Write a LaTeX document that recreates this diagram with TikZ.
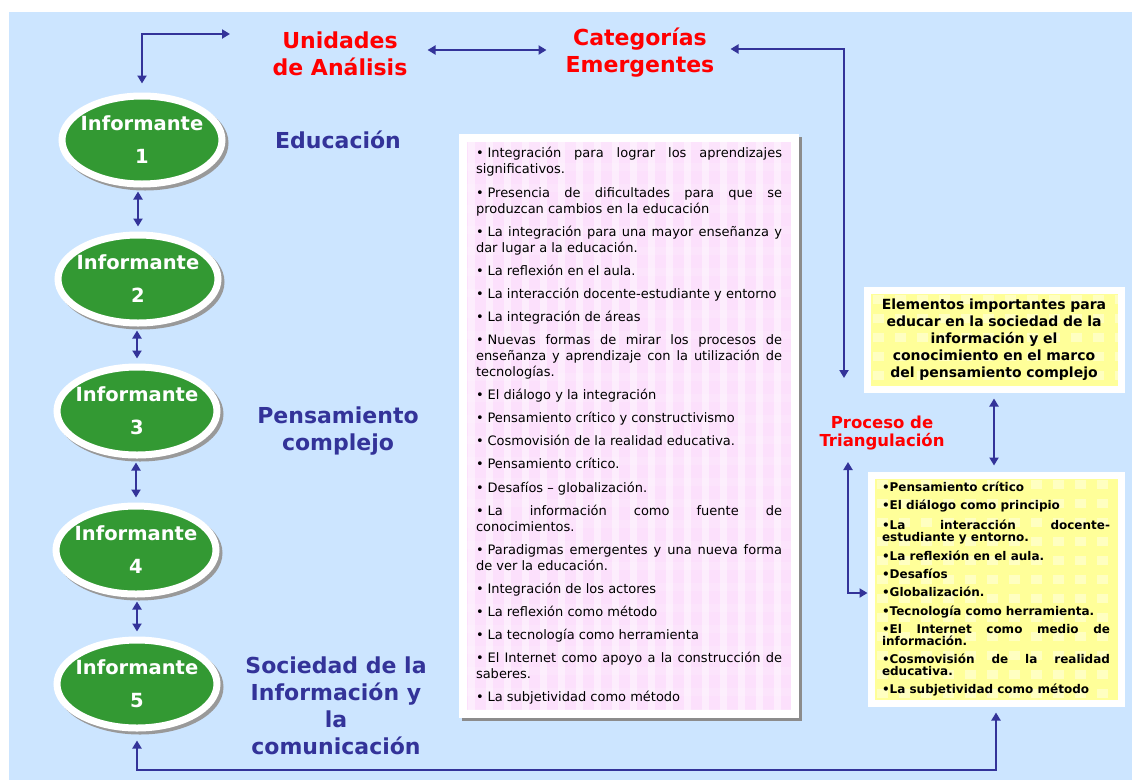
\documentclass[tikz,border=0pt]{standalone}
\usepackage{fontspec}
\setmainfont{DejaVu Sans}
\usepackage{xcolor}
\usepackage{tikz}
\usetikzlibrary{positioning,arrows.meta,shapes.geometric,shadows}
\definecolor{fondoazul}{HTML}{CCE5FF}
\definecolor{verdeinf}{HTML}{339933}
\definecolor{azulosc}{HTML}{333399}
\definecolor{rojotit}{HTML}{FF0000}
\definecolor{rosapal}{HTML}{FCE0FC}
\definecolor{amarillo}{HTML}{FFFF99}
\newcommand{\vin}{\textbullet\hspace{.3em}}

\begin{document}
\begin{tikzpicture}[x=1pt,y=-1pt,>={Triangle[length=8pt,width=9pt]}]
    \tikzset{
        infnodo/.style={
            ellipse,
            fill=verdeinf,
            draw=white,
            line width=7pt,
            minimum width=160pt,
            minimum height=88pt,
            inner xsep=-8pt,
            inner ysep=0pt,
            align=center,
            text=white,
            font=\fontsize{19.5}{33}\selectfont\bfseries,
            drop shadow={shadow xshift=3pt, shadow yshift=-3pt, opacity=1,
                fill=gray!80, draw=gray!80, line width=7pt}
        },
        flecha/.style={
            <->,
            draw=azulosc,
            line width=2.6pt
        },
        titrojo/.style={
            text=rojotit,
            align=center,
            inner sep=2pt,
            font=\fontsize{22}{27}\selectfont\bfseries
        },
        titazul/.style={
            text=azulosc,
            align=center,
            inner sep=2pt,
            font=\fontsize{22}{27}\selectfont\bfseries
        },
        parrafos/.style={
            execute at begin node={\setlength{\parindent}{0pt}\setlength{\parskip}{#1}\tolerance=10000 }
        },
        cajarosa/.style={
            rectangle,
            fill=rosapal,
            draw=white,
            line width=8pt,
            text width=306pt,
            inner xsep=13pt,
            inner ysep=0pt,
            minimum height=576pt,
            align=justify,
            font=\fontsize{13}{16}\selectfont,
            parrafos=7.1pt,
            drop shadow={shadow xshift=2.5pt, shadow yshift=-2.5pt, opacity=1,
                fill=gray!90, draw=gray!90, line width=8pt},
            path picture={
                \foreach \i in {0,...,18}
                    \fill[white,opacity=.45] ([xshift=\i*18pt+5pt]path picture bounding box.north west) rectangle ++(7,590);
                \foreach \j in {0,...,27}
                    \fill[white,opacity=.15] ([yshift=-\j*21pt-4pt]path picture bounding box.north west) rectangle ++(340,8);
            }
        },
        cajaamar/.style={
            rectangle,
            fill=amarillo,
            draw=white,
            line width=7pt,
            inner ysep=0pt,
            text=black,
            path picture={
                \foreach \i in {0,...,11}
                    \foreach \j in {0,...,12}
                        \fill[white,opacity=.4] ([xshift=\i*22pt+6pt,yshift=-\j*19pt-5pt]path picture bounding box.north west) rectangle ++(11,9);
            }
        }
    }

    \useasboundingbox (0,0) rectangle (1132,780);
    \fill[fondoazul] (9,12) rectangle (1132,780);

    % Informantes
    \foreach \n/\px/\py in {1/142/140, 2/138/279, 3/137/411, 4/136/550, 5/137/684}
        \node[infnodo] (inf\n) at (\px,\py) {Informante\\\n};

    % Titulos
    \node[titrojo] (unidades)   at (340,53.5) {Unidades\\de Análisis};
    \node[titrojo] (categorias) at (640,53)   {Categorías\\Emergentes};
    \node[titrojo, font=\fontsize{16.5}{18}\selectfont\bfseries] (proceso) at (882,433) {Proceso de\\Triangulación};
    \node[titazul] (educacion)   at (338,140) {Educación};
    \node[titazul] (pensamiento) at (338,431) {Pensamiento\\complejo};
    \node[titazul] (sociedad)    at (336,706) {Sociedad de la\\Información y\\la\\comunicación};

    % Categorias emergentes
    \node[cajarosa] (emerg) at (629,426) {%
        \vin Integración para lograr los aprendizajes\linebreak significativos.\par
        \vin Presencia de dificultades para que se\linebreak produzcan cambios en la educación\par
        \vin La integración para una mayor enseñanza y\linebreak dar lugar a la educación.\par
        \vin La reflexión en el aula.\par
        \vin La interacción docente-estudiante y entorno\par
        \vin La integración de áreas\par
        \vin Nuevas formas de mirar los procesos de\linebreak enseñanza y aprendizaje con la utilización de\linebreak tecnologías.\par
        \vin El diálogo y la integración\par
        \vin Pensamiento crítico y constructivismo\par
        \vin Cosmovisión de la realidad educativa.\par
        \vin Pensamiento crítico.\par
        \vin Desafíos -- globalización.\par
        \vin La información como fuente de\linebreak conocimientos.\par
        \vin Paradigmas emergentes y una nueva forma\linebreak de ver la educación.\par
        \vin Integración de los actores\par
        \vin La reflexión como método\par
        \vin La tecnología como herramienta\par
        \vin El Internet como apoyo a la construcción de\linebreak saberes.\par
        \vin La subjetividad como método};

    % Elementos y triangulacion
    \node[cajaamar, text width=240pt, inner xsep=7pt, minimum height=99pt, align=center,
        font=\fontsize{14}{17}\selectfont\bfseries] (elementos) at (994,339.5)
        {Elementos importantes para\\educar en la sociedad de la\\información y el\\conocimiento en el marco\\del pensamiento complejo};
    \node[cajaamar, text width=228pt, inner xsep=11pt, minimum height=228pt, align=justify,
        font=\fontsize{12}{12}\selectfont\bfseries, parrafos=6.2pt] (triang) at (996,589) {%
        •Pensamiento crítico\par
        •El diálogo como principio\par
        •La interacción docente-\linebreak estudiante y entorno.\par
        •La reflexión en el aula.\par
        •Desafíos\par
        •Globalización.\par
        •Tecnología como herramienta.\par
        •El Internet como medio de\linebreak información.\par
        •Cosmovisión de la realidad\linebreak educativa.\par
        •La subjetividad como método};

    % Conectores
    \coordinate (ua) at (230,34);
    \coordinate (pt) at (844,378);
    \coordinate (pv) at (848,462);
    \coordinate (base) at (0,770);
    \draw[flecha, shorten >=9pt] (ua) -| (inf1.north);
    \foreach \a/\b in {1/2,2/3,3/4,4/5}
        \draw[flecha, shorten <=4pt, shorten >=5pt] (inf\a.south -| inf\b.north) -- (inf\b.north);
    \draw[flecha, shorten <=18pt, shorten >=17pt] ([yshift=3.5pt]unidades.east) -- ([yshift=3.5pt]unidades.east -| categorias.west);
    \draw[flecha, shorten <=14pt] ([yshift=4pt]categorias.east) -| (pt);
    \draw[flecha, shorten <=6pt, shorten >=6pt] (elementos.south) -- (elementos.south |- triang.north);
    \draw[flecha] (pv) |- ([yshift=-4pt]triang.west);
    \draw[flecha, shorten <=6pt, shorten >=9pt] (triang.south) -- (triang.south |- base) -| (inf5.south);
\end{tikzpicture}
\end{document}
